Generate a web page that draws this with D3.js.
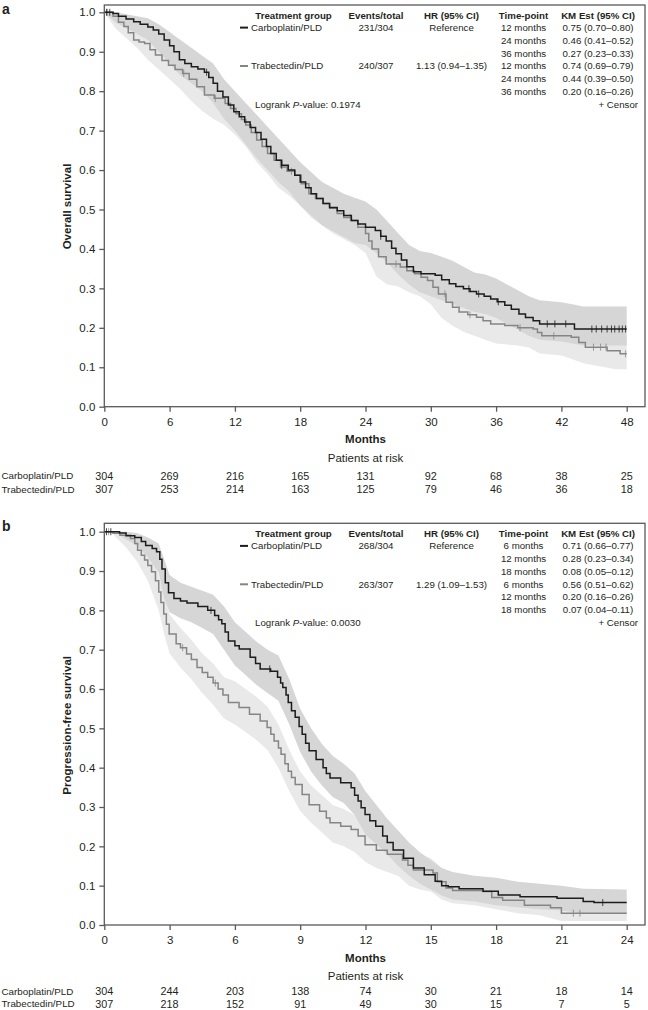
<!DOCTYPE html>
<html><head><meta charset="utf-8">
<script src="https://cdn.jsdelivr.net/npm/d3@7"></script>
<style>
body{margin:0;background:#fff;}
svg{display:block;font-family:"Liberation Sans",Arial,Helvetica,sans-serif;}
</style></head><body>
<svg id="chart" width="648" height="1010"></svg>
<script>
// ---------- DATA ----------
const groups = ["Carboplatin/PLD", "Trabectedin/PLD"];
const survTicks = [0, 0.1, 0.2, 0.3, 0.4, 0.5, 0.6, 0.7, 0.8, 0.9, 1.0];
const osTimeTicks = [0, 6, 12, 18, 24, 30, 36, 42, 48];
const pfsTimeTicks = [0, 3, 6, 9, 12, 15, 18, 21, 24];

// Overall survival (panel a): [month, survival]
const osCarbo = [[0,1],[0.8,0.997],[1.3,0.99],[2.0,0.983],[2.7,0.976],[3.3,0.97],[4.0,0.963],[4.5,0.955],[5.0,0.945],[5.5,0.93],[6.0,0.915],[6.4,0.9],[6.9,0.88],[7.4,0.87],[8.0,0.862],[8.6,0.856],[9.2,0.848],[9.6,0.835],[10.0,0.82],[10.4,0.8],[10.9,0.785],[11.4,0.765],[11.9,0.748],[12.4,0.735],[12.9,0.722],[13.4,0.708],[13.9,0.695],[14.4,0.678],[14.9,0.66],[15.3,0.642],[15.8,0.625],[16.3,0.612],[16.9,0.6],[17.5,0.587],[18.0,0.57],[18.5,0.555],[19.0,0.54],[19.5,0.528],[20.1,0.515],[20.7,0.505],[21.4,0.497],[22.0,0.485],[22.7,0.472],[23.3,0.463],[24.0,0.455],[24.9,0.447],[25.4,0.432],[25.9,0.42],[26.4,0.402],[26.8,0.388],[27.3,0.372],[27.8,0.355],[28.4,0.342],[29.1,0.337],[30.4,0.333],[31.0,0.322],[31.7,0.312],[32.3,0.305],[33.0,0.299],[33.6,0.292],[34.2,0.286],[34.9,0.28],[35.5,0.273],[36.1,0.266],[36.8,0.257],[37.4,0.247],[38.1,0.235],[38.7,0.226],[39.4,0.218],[40.0,0.21],[43.2,0.197],[48,0.197]];
const osTrab = [[0,1],[0.8,0.99],[1.3,0.975],[1.8,0.964],[2.2,0.948],[2.7,0.93],[3.2,0.925],[3.7,0.921],[4.2,0.905],[4.7,0.892],[5.3,0.878],[5.9,0.866],[6.5,0.855],[7.2,0.845],[7.8,0.83],[8.5,0.811],[9.2,0.79],[10.1,0.782],[11.1,0.769],[11.6,0.756],[12.1,0.743],[12.6,0.728],[13.0,0.714],[13.5,0.695],[14.0,0.676],[14.5,0.66],[15.0,0.642],[15.6,0.625],[16.2,0.608],[16.8,0.597],[17.5,0.587],[18.1,0.565],[18.8,0.54],[19.4,0.528],[20.1,0.515],[20.7,0.503],[21.4,0.49],[22.0,0.48],[22.7,0.472],[23.3,0.455],[24.0,0.439],[24.3,0.42],[24.6,0.4],[25.2,0.38],[25.9,0.362],[27.2,0.354],[27.8,0.345],[28.5,0.337],[29.1,0.328],[29.7,0.32],[30.2,0.303],[30.7,0.286],[31.4,0.265],[32.0,0.252],[32.6,0.24],[33.4,0.233],[34.2,0.227],[34.8,0.218],[35.5,0.21],[36.8,0.206],[38.0,0.2],[39.4,0.197],[39.8,0.188],[40.2,0.18],[42.9,0.176],[43.6,0.163],[44.2,0.151],[46.2,0.142],[47.4,0.134],[48,0.134]];
// 95% CI bands: [month, lower, upper]
const osCarboCI = [[0,1,1],[1,0.975,1.0],[2,0.96,0.995],[3,0.945,0.99],[4,0.93,0.985],[5,0.9,0.97],[6,0.87,0.95],[7,0.84,0.93],[8,0.82,0.91],[9,0.8,0.89],[10,0.77,0.87],[11,0.73,0.83],[12,0.7,0.8],[13,0.665,0.77],[14,0.63,0.74],[15,0.6,0.71],[16,0.57,0.68],[17,0.545,0.65],[18,0.51,0.62],[19,0.485,0.595],[20,0.46,0.57],[21,0.445,0.555],[22,0.43,0.54],[23,0.415,0.53],[24,0.41,0.52],[25,0.39,0.5],[26,0.365,0.47],[27,0.335,0.44],[28,0.31,0.41],[29,0.29,0.395],[30,0.28,0.39],[31,0.27,0.38],[32,0.26,0.37],[33,0.25,0.355],[34,0.24,0.34],[35,0.235,0.335],[36,0.225,0.325],[37,0.21,0.31],[38,0.195,0.295],[39,0.18,0.28],[40,0.17,0.27],[42,0.165,0.265],[43,0.16,0.26],[44,0.155,0.254],[48,0.155,0.254]];
const osTrabCI = [[0,1,1],[1,0.96,0.995],[2,0.935,0.985],[3,0.91,0.965],[4,0.88,0.945],[5,0.855,0.925],[6,0.83,0.905],[7,0.805,0.885],[8,0.775,0.865],[9,0.75,0.84],[10,0.73,0.83],[11,0.715,0.815],[12,0.69,0.79],[13,0.66,0.765],[14,0.62,0.73],[15,0.59,0.695],[16,0.555,0.665],[17,0.535,0.64],[18,0.51,0.62],[19,0.48,0.59],[20,0.46,0.57],[21,0.44,0.545],[22,0.425,0.53],[23,0.41,0.515],[24,0.39,0.5],[25,0.33,0.44],[26,0.31,0.415],[27,0.305,0.41],[28,0.29,0.395],[29,0.28,0.38],[30,0.26,0.365],[31,0.225,0.32],[32,0.205,0.3],[33,0.19,0.285],[34,0.18,0.275],[35,0.17,0.265],[36,0.16,0.26],[38,0.155,0.255],[39,0.15,0.25],[40,0.135,0.23],[42,0.13,0.225],[43,0.12,0.215],[44,0.11,0.2],[46,0.1,0.19],[47,0.095,0.185],[48,0.095,0.18]];
const osCarboCensor = [0.2,0.5,9.4,16.3,25.4,33.5,34.4,36.2,40.7,41.4,42.4,44.8,45.2,45.7,46.2,46.6,46.9,47.3,47.6,47.9];
const osTrabCensor = [0.3,7.3,10.2,17.2,22.6,26.8,31.3,33.6,38.2,41.3,44.95,45.6,46.1,47.9];
const osRiskCarbo = [304, 269, 216, 165, 131, 92, 68, 38, 25];
const osRiskTrab = [307, 253, 214, 163, 125, 79, 46, 36, 18];

// Progression-free survival (panel b)
const pfsCarbo = [[0,1],[0.7,0.997],[1.0,0.99],[1.4,0.985],[1.7,0.975],[1.9,0.965],[2.2,0.957],[2.4,0.949],[2.55,0.93],[2.65,0.905],[2.8,0.87],[2.95,0.845],[3.2,0.83],[3.5,0.824],[3.8,0.819],[4.3,0.81],[4.75,0.8],[5.07,0.787],[5.25,0.776],[5.4,0.766],[5.55,0.745],[5.7,0.722],[6.0,0.71],[6.2,0.702],[6.7,0.681],[6.95,0.665],[7.16,0.651],[7.64,0.645],[7.96,0.63],[8.1,0.615],[8.2,0.604],[8.35,0.585],[8.45,0.566],[8.6,0.545],[8.77,0.528],[8.95,0.505],[9.09,0.485],[9.25,0.462],[9.41,0.443],[9.73,0.421],[10.05,0.4],[10.2,0.385],[10.37,0.374],[10.86,0.362],[11.34,0.349],[11.5,0.33],[11.66,0.315],[11.8,0.298],[11.98,0.281],[12.2,0.265],[12.47,0.251],[12.79,0.226],[13.0,0.21],[13.27,0.191],[13.75,0.17],[14.2,0.145],[14.7,0.128],[15.2,0.111],[15.5,0.1],[15.8,0.097],[16.3,0.092],[17.4,0.086],[18.1,0.076],[19.1,0.072],[20.8,0.068],[22.0,0.06],[22.5,0.057],[24,0.057]];
const pfsTrab = [[0,1],[0.4,0.996],[0.72,0.991],[1.2,0.983],[1.4,0.97],[1.53,0.953],[1.7,0.94],[1.85,0.928],[2.0,0.914],[2.17,0.898],[2.35,0.875],[2.5,0.847],[2.6,0.82],[2.73,0.791],[2.85,0.765],[2.98,0.74],[3.3,0.715],[3.5,0.705],[3.78,0.689],[4.0,0.675],[4.26,0.655],[4.5,0.642],[4.75,0.63],[5.0,0.615],[5.23,0.6],[5.45,0.585],[5.7,0.566],[6.19,0.553],[6.67,0.536],[7.16,0.519],[7.48,0.502],[7.65,0.485],[7.8,0.468],[8.0,0.45],[8.12,0.434],[8.3,0.41],[8.45,0.391],[8.6,0.375],[8.77,0.357],[9.09,0.332],[9.41,0.306],[9.89,0.289],[10.2,0.272],[10.37,0.26],[10.86,0.251],[11.34,0.243],[11.66,0.226],[11.98,0.204],[12.5,0.19],[13.0,0.18],[13.7,0.165],[13.95,0.152],[14.2,0.14],[15.1,0.132],[15.3,0.11],[15.7,0.094],[16.0,0.088],[17.4,0.085],[17.8,0.07],[18.3,0.063],[19.3,0.05],[20.5,0.044],[21.0,0.03],[24,0.03]];
const pfsCarboCI = [[0,1,1],[0.5,1,1],[1,0.98,1.0],[1.5,0.965,0.997],[2,0.935,0.985],[2.5,0.895,0.97],[2.75,0.83,0.93],[3,0.795,0.89],[3.5,0.78,0.87],[4,0.77,0.86],[4.5,0.755,0.85],[5,0.74,0.84],[5.5,0.7,0.81],[6,0.66,0.77],[6.5,0.635,0.745],[7,0.61,0.72],[7.5,0.59,0.7],[8,0.57,0.685],[8.5,0.51,0.625],[9,0.44,0.55],[9.5,0.39,0.5],[10,0.355,0.46],[10.5,0.325,0.43],[11,0.31,0.41],[11.5,0.28,0.385],[12,0.23,0.34],[12.5,0.205,0.305],[13,0.18,0.27],[13.5,0.15,0.24],[14,0.125,0.21],[14.5,0.105,0.185],[15,0.09,0.165],[15.5,0.075,0.145],[16,0.065,0.135],[17,0.06,0.125],[18,0.05,0.12],[19,0.045,0.11],[20,0.04,0.105],[21,0.037,0.1],[22,0.03,0.092],[24,0.03,0.09]];
const pfsTrabCI = [[0,1,1],[0.3,1,1],[1,0.96,1.0],[1.5,0.925,0.98],[2,0.875,0.95],[2.5,0.8,0.89],[2.75,0.74,0.84],[3,0.69,0.79],[3.5,0.655,0.755],[4,0.625,0.725],[4.5,0.59,0.69],[5,0.56,0.665],[5.5,0.525,0.63],[6,0.51,0.62],[6.5,0.49,0.6],[7,0.47,0.58],[7.5,0.445,0.555],[8,0.4,0.51],[8.5,0.34,0.445],[9,0.29,0.39],[9.5,0.26,0.355],[10,0.235,0.33],[10.5,0.21,0.305],[11,0.2,0.295],[11.5,0.185,0.28],[12,0.16,0.26],[12.5,0.145,0.24],[13,0.135,0.23],[13.5,0.125,0.215],[14,0.1,0.19],[14.5,0.09,0.18],[15,0.085,0.17],[15.5,0.065,0.145],[16,0.055,0.13],[17,0.05,0.12],[18,0.04,0.11],[19,0.03,0.095],[20,0.025,0.085],[21,0.01,0.065],[24,0.01,0.065]];
const pfsCarboCensor = [0.1,0.3,4.9,7.6,22.9];
const pfsTrabCensor = [0.2,3.6,5.1,21.55,21.85];
const pfsRiskCarbo = [304, 244, 203, 138, 74, 30, 21, 18, 14];
const pfsRiskTrab = [307, 218, 152, 91, 49, 30, 15, 7, 5];

// Legend tables
const tableHeaders = ["Treatment group", "Events/total", "HR (95% CI)", "Time-point", "KM Est (95% CI)"];
const osEvents = ["231/304", "240/307"];
const osHR = ["Reference", "1.13 (0.94\u20131.35)"];
const osTimepoints = ["12 months", "24 months", "36 months", "12 months", "24 months", "36 months"];
const osKM = ["0.75 (0.70\u20130.80)", "0.46 (0.41\u20130.52)", "0.27 (0.23\u20130.33)", "0.74 (0.69\u20130.79)", "0.44 (0.39\u20130.50)", "0.20 (0.16\u20130.26)"];
const osLogrank = "0.1974";
const pfsEvents = ["268/304", "263/307"];
const pfsHR = ["Reference", "1.29 (1.09\u20131.53)"];
const pfsTimepoints = ["6 months", "12 months", "18 months", "6 months", "12 months", "18 months"];
const pfsKM = ["0.71 (0.66\u20130.77)", "0.28 (0.23\u20130.34)", "0.08 (0.05\u20130.12)", "0.56 (0.51\u20130.62)", "0.20 (0.16\u20130.26)", "0.07 (0.04\u20130.11)"];
const pfsLogrank = "0.0030";

// ---------- DRAW ----------
const svg = d3.select("#chart");
const TXT = "#231f20", AX = "#5a5a5a";
const COL = ["#1c1c1c", "#858585"];
const BAND = ["#d6d6d6", "#e9e9e9"];

function stepAt(curve, t) {
  let v = curve[0][1];
  for (const p of curve) { if (p[0] <= t) v = p[1]; else break; }
  return v;
}

function panel(cfg) {
  const x = d3.scaleLinear().domain([0, cfg.xMax]).range([104.3, 626.7]);
  const y = d3.scaleLinear().domain([0, 1]).range([cfg.yBottom, cfg.yTop]);
  const g = svg.append("g");

  // panel letter
  g.append("text").attr("x", 2).attr("y", cfg.letterY).attr("font-size", 14).attr("font-weight", "bold")
    .attr("fill", TXT).text(cfg.letter);

  // CI bands (trab below, carbo on top)
  const area = d3.area().x(d => x(d[0])).y0(d => y(d[1])).y1(d => y(d[2])).curve(d3.curveLinear);
  g.append("path").attr("d", area(cfg.ci[1])).attr("fill", BAND[1]);
  g.append("path").attr("d", area(cfg.ci[0])).attr("fill", BAND[0]);

  // survival step curves
  const line = d3.line().x(d => x(d[0])).y(d => y(d[1])).curve(d3.curveStepAfter);
  [1, 0].forEach(i => {
    g.append("path").attr("d", line(cfg.curves[i])).attr("fill", "none")
      .attr("stroke", COL[i]).attr("stroke-width", 1.5);
    g.selectAll(null).data(cfg.censors[i]).enter().append("line")
      .attr("x1", d => x(d)).attr("x2", d => x(d))
      .attr("y1", d => y(stepAt(cfg.curves[i], d)) - 3.5)
      .attr("y2", d => y(stepAt(cfg.curves[i], d)) + 3.5)
      .attr("stroke", COL[i]).attr("stroke-width", 0.8);
  });

  // frame
  g.append("rect").attr("x", 104.3).attr("y", cfg.frameTop)
    .attr("width", 645 - 104.3).attr("height", cfg.yBottom - cfg.frameTop)
    .attr("fill", "none").attr("stroke", AX).attr("stroke-width", 1.3);

  // axes
  const ya = g.append("g").attr("transform", `translate(104.3,0)`)
    .call(d3.axisLeft(y).tickValues(survTicks).tickFormat(d3.format(".1f")).tickSize(5).tickPadding(4));
  const xa = g.append("g").attr("transform", `translate(0,${cfg.yBottom})`)
    .call(d3.axisBottom(x).tickValues(cfg.ticks).tickFormat(d3.format("d")).tickSize(5).tickPadding(6));
  [ya, xa].forEach(a => {
    a.select(".domain").remove();
    a.selectAll("line").attr("stroke", AX).attr("stroke-width", 1.3);
    a.selectAll("text").attr("fill", TXT).attr("font-size", 11.5)
      .attr("font-family", '"Liberation Sans",Arial,sans-serif');
  });

  // axis titles
  g.append("text").attr("transform", `translate(71,${(cfg.yTop + cfg.yBottom) / 2 - 3}) rotate(-90)`)
    .attr("text-anchor", "middle").attr("font-size", 11.5).attr("font-weight", "bold").attr("fill", TXT)
    .text(cfg.yTitle);
  const xm = x(cfg.xMax / 2);
  g.append("text").attr("x", xm).attr("y", cfg.yBottom + 36.5).attr("text-anchor", "middle")
    .attr("font-size", 11.5).attr("font-weight", "bold").attr("fill", TXT).text("Months");
  g.append("text").attr("x", xm).attr("y", cfg.yBottom + 55).attr("text-anchor", "middle")
    .attr("font-size", 11.5).attr("fill", TXT).text("Patients at risk");

  // risk table
  cfg.risk.forEach((row, i) => {
    const ry = cfg.riskY[i];
    g.append("text").attr("x", 1.5).attr("y", ry).attr("dy", "0.35em").attr("font-size", 9.8)
      .attr("fill", TXT).text(groups[i]);
    g.selectAll(null).data(row).enter().append("text")
      .attr("x", (d, j) => x(cfg.ticks[j])).attr("y", ry).attr("dy", "0.35em")
      .attr("text-anchor", "middle").attr("font-size", 10.8).attr("fill", TXT).text(d => d);
  });

  // legend table
  const fs = 9.7;
  const hy = cfg.frameTop + 10.8, r0 = cfg.frameTop + 22.6, rs = 12.8;
  const colX = [293.5, 376, 451.5, 523.5, 598];
  tableHeaders.forEach((h, j) => {
    g.append("text").attr("x", colX[j]).attr("y", hy).attr("dy", "0.35em").attr("text-anchor", "middle")
      .attr("font-size", fs).attr("font-weight", "bold").attr("fill", TXT).text(h);
  });
  [0, 1].forEach(i => {
    const ry = r0 + i * 3 * rs;
    g.append("line").attr("x1", 240).attr("x2", 248).attr("y1", ry).attr("y2", ry)
      .attr("stroke", COL[i]).attr("stroke-width", 2);
    g.append("text").attr("x", 251).attr("y", ry).attr("dy", "0.35em").attr("font-size", fs)
      .attr("fill", TXT).text(groups[i]);
    g.append("text").attr("x", colX[1]).attr("y", ry).attr("dy", "0.35em").attr("text-anchor", "middle")
      .attr("font-size", fs).attr("fill", TXT).text(cfg.events[i]);
    g.append("text").attr("x", colX[2]).attr("y", ry).attr("dy", "0.35em").attr("text-anchor", "middle")
      .attr("font-size", fs).attr("fill", TXT).text(cfg.hr[i]);
  });
  cfg.timepoints.forEach((t, k) => {
    const ry = r0 + k * rs;
    g.append("text").attr("x", colX[3]).attr("y", ry).attr("dy", "0.35em").attr("text-anchor", "middle")
      .attr("font-size", fs).attr("fill", TXT).text(t);
    g.append("text").attr("x", colX[4]).attr("y", ry).attr("dy", "0.35em").attr("text-anchor", "middle")
      .attr("font-size", fs).attr("fill", TXT).text(cfg.km[k]);
  });
  const ly = r0 + 6 * rs;
  const lt = g.append("text").attr("x", 255).attr("y", ly).attr("dy", "0.35em").attr("font-size", fs).attr("fill", TXT);
  lt.append("tspan").text("Logrank ");
  lt.append("tspan").attr("font-style", "italic").text("P");
  lt.append("tspan").text("-value: " + cfg.logrank);
  g.append("text").attr("x", 638).attr("y", ly).attr("dy", "0.35em").attr("text-anchor", "end")
    .attr("font-size", fs).attr("fill", TXT).text("+ Censor");
}

panel({
  letter: "a", letterY: 13.5, frameTop: 5, yTop: 12.3, yBottom: 406.7, xMax: 48, ticks: osTimeTicks,
  yTitle: "Overall survival", curves: [osCarbo, osTrab], ci: [osCarboCI, osTrabCI],
  censors: [osCarboCensor, osTrabCensor], risk: [osRiskCarbo, osRiskTrab], riskY: [476, 489.3],
  events: osEvents, hr: osHR, timepoints: osTimepoints, km: osKM, logrank: osLogrank
});
panel({
  letter: "b", letterY: 531, frameTop: 523.3, yTop: 531.7, yBottom: 925, xMax: 24, ticks: pfsTimeTicks,
  yTitle: "Progression-free survival", curves: [pfsCarbo, pfsTrab], ci: [pfsCarboCI, pfsTrabCI],
  censors: [pfsCarboCensor, pfsTrabCensor], risk: [pfsRiskCarbo, pfsRiskTrab], riskY: [991.5, 1003.8],
  events: pfsEvents, hr: pfsHR, timepoints: pfsTimepoints, km: pfsKM, logrank: pfsLogrank
});
</script>
</body></html>
